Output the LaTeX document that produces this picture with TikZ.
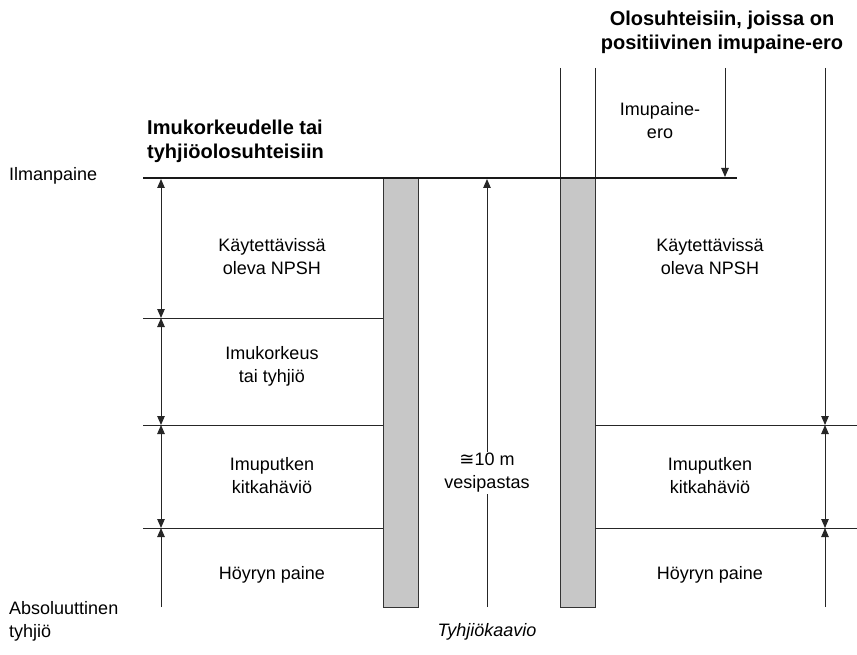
\documentclass[tikz,border=0pt]{standalone}
\usepackage{fontspec}
\setmainfont{Liberation Sans}
\newfontfamily\symfont{DejaVu Sans}
\usetikzlibrary{arrows.meta}
\tikzset{>={Triangle[length=9pt,width=7.5pt]}}
\tikzset{
  line/.style={draw=black!85,line width=1pt},
  baseline/.style={draw=black!90,line width=2pt},
  column/.style={draw=black!80,fill=black!22,line width=1pt},
  dim/.style={line,->},
  label/.style={align=center,inner sep=1pt},
  title/.style={font=\fontsize{20}{24}\selectfont\bfseries,inner sep=0pt}
}

\begin{document}
\begin{tikzpicture}[x=1pt,y=-1pt,font=\fontsize{18}{23}\selectfont]
      \useasboundingbox (0,0) rectangle (857,655);
      \draw[column] (383,178) rectangle (418,607);
      \draw[column] (560,178) rectangle (595,607);
      \draw[line] (560,68) -- (560,178);
      \draw[line] (595,68) -- (595,178);
      \draw[line] (143,318) -- (383,318);
      \draw[line] (143,425) -- (383,425);
      \draw[line] (143,528) -- (383,528);
      \draw[line] (595,425) -- (857,425);
      \draw[line] (595,528) -- (857,528);
      \draw[baseline] (143,178) -- (737,178);
      \coordinate (l0) at (161,179);
      \coordinate (l1) at (161,318);
      \coordinate (l2) at (161,425);
      \coordinate (l3) at (161,528);
      \coordinate (l4) at (161,607);
      \coordinate (m0) at (487,179);
      \coordinate (m1) at (487,607);
      \coordinate (r0) at (825,68);
      \coordinate (r1) at (825,425);
      \coordinate (r2) at (825,528);
      \coordinate (r3) at (825,607);
      \coordinate (p0) at (725,68);
      \coordinate (p1) at (725,177);
      \draw[dim,<->] (l0) -- (l1);
      \draw[dim,<->] (l1) -- (l2);
      \draw[dim,<->] (l2) -- (l3);
      \draw[dim] (l4) -- (l3);
      \draw[dim] (m1) -- (m0);
      \draw[dim] (r0) -- (r1);
      \draw[dim,<->] (r1) -- (r2);
      \draw[dim] (r3) -- (r2);
      \draw[dim] (p0) -- (p1);
      \node[label,fill=white] (vesi) at (487,473) {{\symfont ≅}10 m\\vesipastas};
      \node[label] (npshL) at (272,257) {Käytettävissä\\oleva NPSH};
      \node[label] (imukork) at (272,366) {Imukorkeus\\tai tyhjiö};
      \node[label] (kitkaL) at (272,476) {Imuputken\\kitkahäviö};
      \node[label] (hoyryL) at (272,575) {Höyryn paine};
      \node[label] (npshR) at (710,257) {Käytettävissä\\oleva NPSH};
      \node[label] (kitkaR) at (710,476) {Imuputken\\kitkahäviö};
      \node[label] (hoyryR) at (710,575) {Höyryn paine};
      \node[label] (imupaine) at (660,121) {Imupaine-\\ero};
      \node[label,anchor=west] (ilma) at (8,176) {Ilmanpaine};
      \node[label,anchor=west,align=left] (abs) at (8,621) {Absoluuttinen\\tyhjiö};
      \node[label,font=\fontsize{18}{23}\selectfont\itshape] (kaavio) at (487,632) {Tyhjiökaavio};
      \node[title,anchor=west,align=left] (vasen) at (147,141) {Imukorkeudelle tai\\tyhjiöolosuhteisiin};
      \node[title,align=center] (oikea) at (722,32) {Olosuhteisiin, joissa on\\positiivinen imupaine-ero};
    \end{tikzpicture}
\end{document}
